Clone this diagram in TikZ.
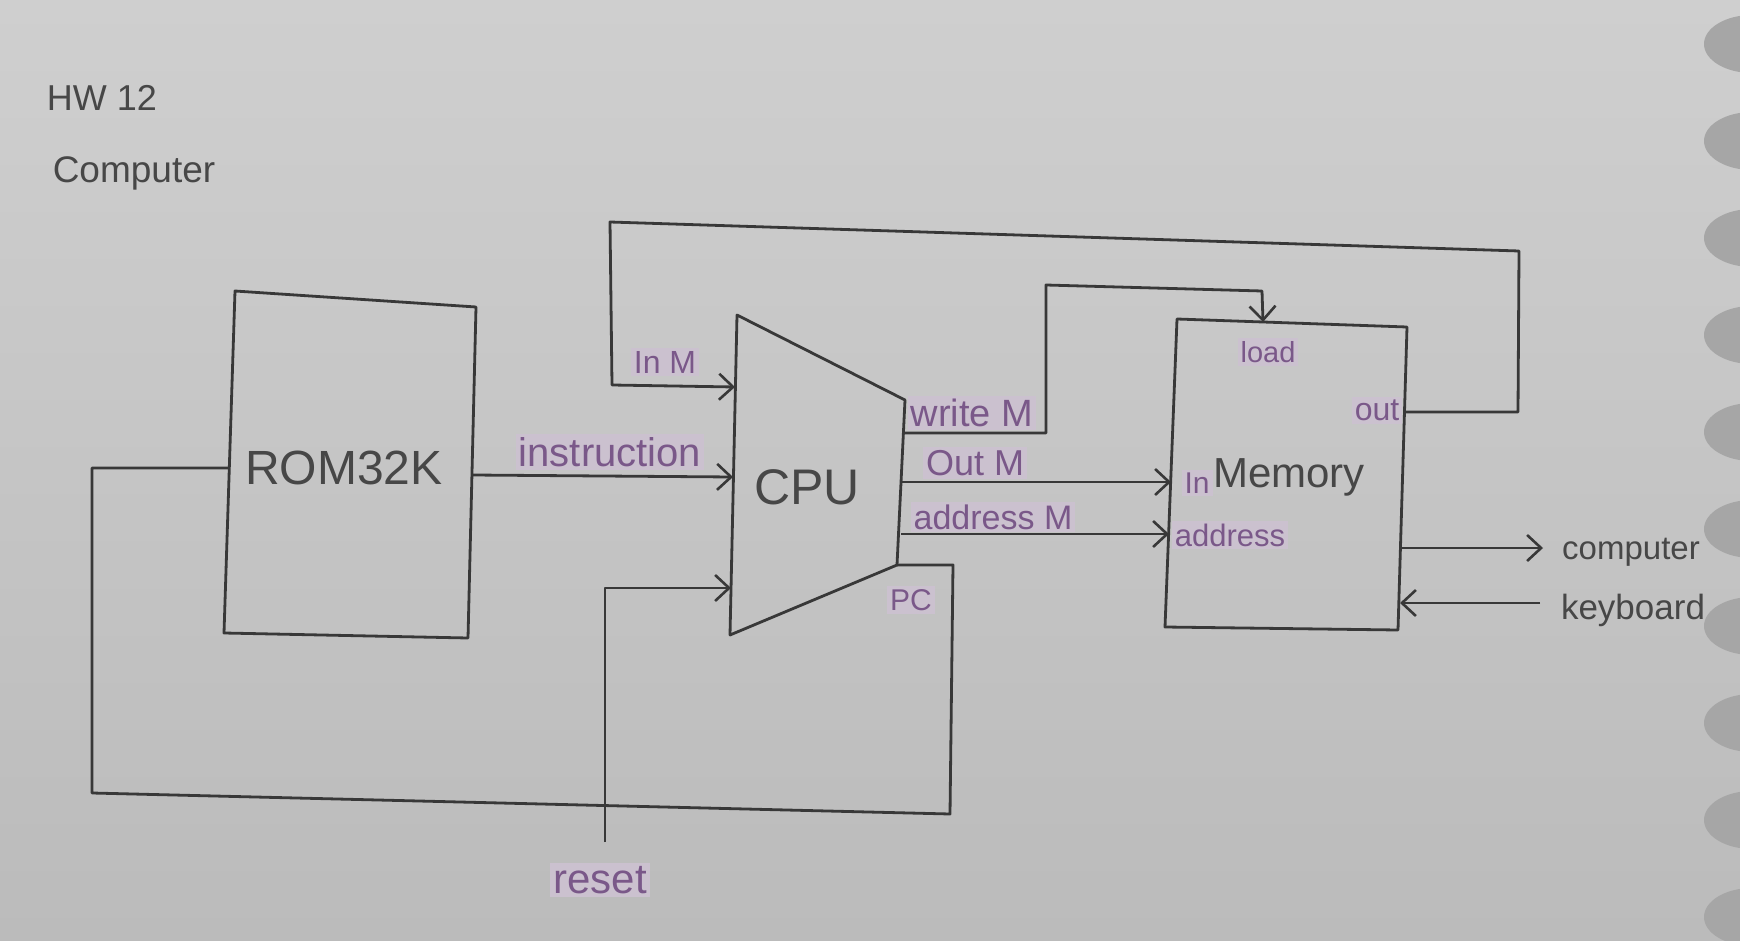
\documentclass[tikz,border=0pt]{standalone}
\usepackage{fontspec}
\setmainfont{Liberation Sans}
\usetikzlibrary{arrows.meta}
\definecolor{paperlight}{HTML}{CFCFCF}
\definecolor{paperdark}{HTML}{BBBBBB}
\definecolor{hole}{HTML}{A6A6A6}
\definecolor{ink}{HTML}{383838}
\definecolor{pen}{HTML}{474747}
\definecolor{plum}{HTML}{7A5889}
\definecolor{hl}{HTML}{CBC1CF}
\newcommand{\fsz}[1]{\fontsize{#1}{#1}\selectfont}
\begin{document}
\begin{tikzpicture}[x=0.5pt,y=-0.5pt,
  wire/.style={draw=ink, line width=1.4pt, line join=round},
  arr/.style={wire, -{Straight Barb[length=7pt,width=13pt,line width=1.3pt]}},
  lbl/.style={text=plum, fill=hl, inner sep=1.5pt},
  hand/.style={text=pen, inner sep=0pt}]
\useasboundingbox (0,0) rectangle (1740,941);
\shade[top color=paperlight, bottom color=paperdark] (0,0) rectangle (1740,941);
% binder holes
\foreach \yy in {44,141,238,335,432,529,626,723,820,917}
  \fill[hole] (1752,\yy) ellipse [x radius=48, y radius=29];
% corners
\coordinate (r1) at (235,291); \coordinate (r2) at (476,307);
\coordinate (r3) at (468,638); \coordinate (r4) at (224,633);
\coordinate (c1) at (737,315); \coordinate (c2) at (905,400);
\coordinate (c3) at (897,565); \coordinate (c4) at (730,635);
\coordinate (m1) at (1177,319); \coordinate (m2) at (1407,327);
\coordinate (m3) at (1398,630); \coordinate (m4) at (1165,627);
% shapes
\draw[wire] (r1) -- (r2) -- (r3) -- (r4) -- cycle;
\draw[wire] (c1) -- (c2) -- (c3) -- (c4) -- cycle;
\draw[wire] (m1) -- (m2) -- (m3) -- (m4) -- cycle;
% port coordinates
\coordinate (romIn) at (229,468);
\coordinate (romOut) at (472,475);
\coordinate (cpuInstr) at (733,477);
\coordinate (cpuInM) at (735,387);
\coordinate (cpuReset) at (731,588);
\coordinate (cpuWrite) at (904,433);
\coordinate (cpuOut) at (902,482);
\coordinate (cpuAddr) at (901,534);
\coordinate (memLoad) at (1263,322);
\coordinate (memIn) at (1171,482);
\coordinate (memAddr) at (1169,534);
\coordinate (memOut) at (1404,412);
\coordinate (memComp) at (1401,548);
\coordinate (memKey) at (1400,603);
\coordinate (compEnd) at (1543,548);
\coordinate (keyEnd) at (1540,603);
\coordinate (resetEnd) at (605,842);
% connectors
\draw[arr] (romOut) -- (cpuInstr);
\draw[arr] (memOut) -- (1518,412) -- (1519,251) -- (610,222) -- (612,385) -- (cpuInM);
\draw[arr] (cpuWrite) -- (1046,433) -- (1046,285) -- (1262,291) -- (memLoad);
\draw[arr] (cpuOut) -- (memIn);
\draw[arr] (cpuAddr) -- (memAddr);
\draw[wire] (c3) -- (953,565) -- (950,814) -- (92,793) -- (92,468) -- (romIn);
\draw[arr] (resetEnd) -- (605,588) -- (cpuReset);
\draw[arr] (memComp) -- (compEnd);
\draw[arr] (keyEnd) -- (memKey);
% texts
\node[hand, font=\fsz{18}] (hw) at (102,98) {HW 12};
\node[hand, font=\fsz{18.5}] (title) at (134,173) {Computer};
\node[hand, font=\fsz{24}] (rom) at (344,468) {ROM32K};
\node[hand, font=\fsz{25}] (cpu) at (807,487) {CPU};
\node[hand, font=\fsz{21}] (mem) at (1289,477) {Memory};
\node[hand, font=\fsz{16.5}] (comp) at (1631,552) {computer};
\node[hand, font=\fsz{17.5}] (key) at (1633,610) {keyboard};
\node[lbl, font=\fsz{20}] (linstr) at (610,452) {instruction};
\node[lbl, font=\fsz{16}] (linm) at (665,362) {In M};
\node[lbl, font=\fsz{19}] (lwrite) at (972,413) {write M};
\node[lbl, font=\fsz{18}] (lout) at (975,463) {Out M};
\node[lbl, font=\fsz{17}] (laddr) at (993,517) {address M};
\node[lbl, font=\fsz{15}] (lpc) at (911,600) {PC};
\node[lbl, font=\fsz{14.5}] (lload) at (1268,352) {load};
\node[lbl, font=\fsz{16}] (lmout) at (1377,410) {out};
\node[lbl, font=\fsz{15}] (lmin) at (1197,483) {In};
\node[lbl, font=\fsz{15.5}] (lmaddr) at (1230,535) {address};
\node[lbl, font=\fsz{21}] (lreset) at (600,880) {reset};
\end{tikzpicture}
\end{document}
